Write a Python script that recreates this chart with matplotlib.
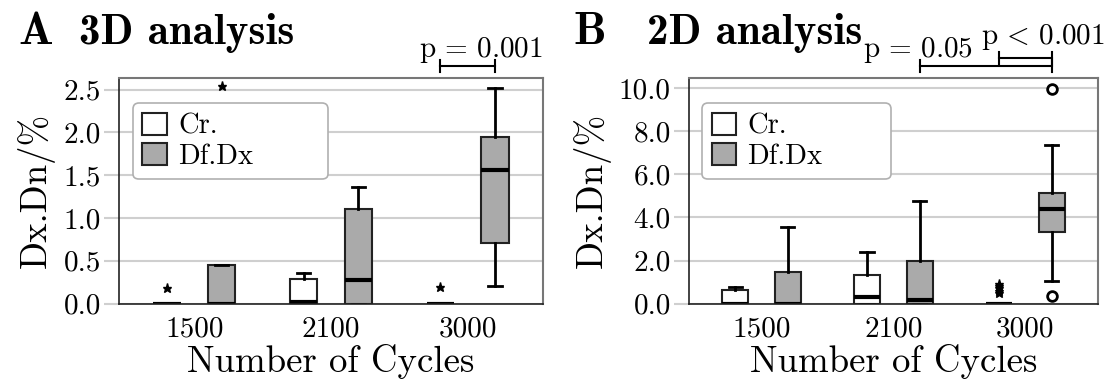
import numpy as np
import matplotlib
matplotlib.use("Agg")
import matplotlib.pyplot as plt
from matplotlib.patches import Patch

plt.rcParams["font.family"] = "cmr10"
plt.rcParams["mathtext.fontset"] = "cm"
plt.rcParams["axes.unicode_minus"] = False
plt.rcParams["axes.formatter.use_mathtext"] = True

cycles = ["1500", "2100", "3000"]
groups = ["Cr.", "Df.Dx"]

# 3D analysis: box statistics per cycle count
a_cr_q1 = [0.0, 0.0, 0.0]
a_cr_med = [0.0, 0.02, 0.0]
a_cr_q3 = [0.0, 0.29, 0.0]
a_cr_lo = [0.0, 0.0, 0.0]
a_cr_hi = [0.0, 0.36, 0.0]
a_cr_fliers = [[0.18], [], [0.19]]

a_df_q1 = [0.0, 0.0, 0.71]
a_df_med = [0.0, 0.28, 1.56]
a_df_q3 = [0.45, 1.10, 1.95]
a_df_lo = [0.0, 0.0, 0.21]
a_df_hi = [0.45, 1.36, 2.52]
a_df_fliers = [[2.54], [], []]

# 2D analysis
b_cr_q1 = [0.0, 0.0, 0.0]
b_cr_med = [0.0, 0.28, 0.0]
b_cr_q3 = [0.61, 1.34, 0.0]
b_cr_lo = [0.0, 0.0, 0.0]
b_cr_hi = [0.75, 2.38, 0.0]
b_cr_fliers = [[], [], [0.5, 0.6, 0.7, 0.8, 0.9]]

b_df_q1 = [0.0, 0.0, 3.34]
b_df_med = [0.0, 0.14, 4.40]
b_df_q3 = [1.46, 1.96, 5.16]
b_df_lo = [0.0, 0.0, 1.03]
b_df_hi = [3.55, 4.76, 7.37]
b_df_fliers = [[], [], [9.97, 0.33]]

a_ticks = [0.0, 0.5, 1.0, 1.5, 2.0, 2.5]
b_ticks = [0.0, 2.0, 4.0, 6.0, 8.0, 10.0]

# significance brackets: (cycle, hue, cycle, hue, label)
a_sig = [(2, 0, 2, 1, r"$\mathrm{p}\,=\,0.001$")]
b_sig = [(1, 1, 2, 1, r"$\mathrm{p}\,=\,0.05$"),
         (2, 0, 2, 1, r"$\mathrm{p}\,<\,0.001$")]

face = ["white", "#aaaaaa"]
edge = "#222222"
grid_c = "#cfcfcf"
offset = 0.2
width = 0.2


def stats(q1, med, q3, lo, hi, fl):
    return [dict(q1=q1[i], med=med[i], q3=q3[i], whislo=lo[i], whishi=hi[i],
                 fliers=fl[i]) for i in range(len(q1))]


def draw_panel(ax, cr, df, ticks, ylim, circle_fliers):
    x = np.arange(len(cycles))
    for h, st in enumerate([cr, df]):
        pos = x + (h - 0.5) * 2 * offset
        art = ax.bxp(st, positions=pos, widths=width, patch_artist=True,
                     manage_ticks=False,
                     boxprops=dict(facecolor=face[h], edgecolor=edge, linewidth=1.5),
                     medianprops=dict(color="black", linewidth=3),
                     whiskerprops=dict(color="black", linewidth=2),
                     capprops=dict(color="black", linewidth=2),
                     flierprops=dict(marker="*", markersize=6.5, markerfacecolor="black",
                                     markeredgecolor="black"))
        for i in circle_fliers.get(h, []):
            art["fliers"][i].set_marker("o")
            art["fliers"][i].set_markerfacecolor("white")
            art["fliers"][i].set_markeredgewidth(2)
            art["fliers"][i].set_markersize(7)
    ax.set_xlim(-0.55, 2.55)
    ax.set_ylim(*ylim)
    ax.set_xticks(x)
    ax.set_xticklabels(cycles)
    ax.set_yticks(ticks)
    ax.set_yticklabels(["%.1f" % t for t in ticks])
    ax.yaxis.grid(True, color=grid_c, linewidth=1.5)
    ax.set_axisbelow(True)
    ax.tick_params(axis="x", length=0, labelsize=21, pad=9)
    ax.tick_params(axis="y", length=11, color=grid_c, width=1.5, labelsize=21, pad=2)
    for s in ["top", "right"]:
        ax.spines[s].set_color("#777777")
        ax.spines[s].set_linewidth(1.5)
    for s in ["left", "bottom"]:
        ax.spines[s].set_color("#222222")
        ax.spines[s].set_linewidth(1.2)
    ax.set_xlabel("Number of Cycles", fontsize=26.5, labelpad=1)
    ax.set_ylabel("Dx.Dn/%", fontsize=26.5, labelpad=6)
    handles = [Patch(facecolor=face[h], edgecolor=edge, linewidth=1.5, label=groups[h])
               for h in range(2)]
    leg = ax.legend(handles=handles, loc="upper left", mode="expand",
                    bbox_to_anchor=(0.033, 0.886, 0.46, 0.0), borderaxespad=0,
                    fontsize=20.5, handlelength=0.85, handleheight=0.85,
                    handletextpad=0.4, labelspacing=0.1, borderpad=0.33,
                    fancybox=True, framealpha=1)
    leg.get_frame().set_edgecolor("#b0b0b0")
    leg.get_frame().set_linewidth(1.2)


def bracket(ax, i, hi_, j, hj, y, tick):
    x0 = i + (hi_ - 0.5) * 2 * offset
    x1 = j + (hj - 0.5) * 2 * offset
    ax.plot([x0, x1], [y, y], color="black", lw=1.5, clip_on=False)
    ax.plot([x0, x0], [y - tick, y + tick], color="black", lw=1.5, clip_on=False)
    ax.plot([x1, x1], [y - tick, y + tick], color="black", lw=1.5, clip_on=False)


fig = plt.figure(figsize=(11.08, 3.8), dpi=100)
ax_a = fig.add_axes([0.1074, 0.2013, 0.3827, 0.5947])
ax_b = fig.add_axes([0.6218, 0.2013, 0.3691, 0.5947])

draw_panel(ax_a,
           stats(a_cr_q1, a_cr_med, a_cr_q3, a_cr_lo, a_cr_hi, a_cr_fliers),
           stats(a_df_q1, a_df_med, a_df_q3, a_df_lo, a_df_hi, a_df_fliers),
           a_ticks, (0, 2.64), {})
draw_panel(ax_b,
           stats(b_cr_q1, b_cr_med, b_cr_q3, b_cr_lo, b_cr_hi, b_cr_fliers),
           stats(b_df_q1, b_df_med, b_df_q3, b_df_lo, b_df_hi, b_df_fliers),
           b_ticks, (0, 10.51), {1: [2]})

# p-value brackets and labels
i, hi_, j, hj, lab = a_sig[0]
bracket(ax_a, i, hi_, j, hj, 2.776, 0.07)
ax_a.text(1.645, 2.88, lab, fontsize=21, ha="left", va="baseline", clip_on=False)

bracket(ax_b, *b_sig[0][:4], 11.03, 0.28)
ax_b.text(0.766, 11.45, b_sig[0][4], fontsize=21, ha="left", va="baseline", clip_on=False)
bracket(ax_b, *b_sig[1][:4], 11.40, 0.28)
ax_b.text(1.667, 12.07, b_sig[1][4], fontsize=21, ha="left", va="baseline", clip_on=False)

# panel letters and titles
fig.text(18 / 1108, 1 - 44 / 380, "A", family="cmb10", fontsize=33, va="baseline")
fig.text(79 / 1108, 1 - 44 / 380, "3D analysis", family="cmb10", fontsize=31, va="baseline")
fig.text(573 / 1108, 1 - 44 / 380, "B", family="cmb10", fontsize=33, va="baseline")
fig.text(647 / 1108, 1 - 44 / 380, "2D analysis", family="cmb10", fontsize=31, va="baseline")

fig.savefig("out.png", dpi=100)
